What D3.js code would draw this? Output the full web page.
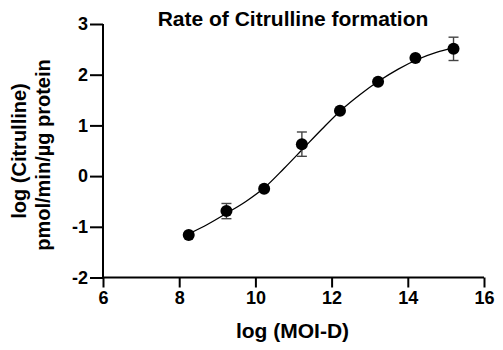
<!DOCTYPE html>
<html><head><meta charset="utf-8">
<script src="https://cdn.jsdelivr.net/npm/d3@7"></script>
<style>body{margin:0;background:#fff}svg{display:block}</style>
</head><body><svg id="c" width="503" height="350"></svg>
<script>
const xVals = [8.25, 9.24, 10.23, 11.22, 12.22, 13.22, 14.2, 15.2];
const yVals = [-1.16, -0.69, -0.25, 0.63, 1.29, 1.86, 2.33, 2.51];
const yErr  = [0, 0.15, 0, 0.24, 0, 0, 0, 0.23];
const curveX = [8.25, 8.75, 9.25, 9.75, 10.25, 10.75, 11.25, 11.75, 12.25, 12.75, 13.25, 13.75, 14.25, 14.75, 15.2];
const curveY = [-1.14, -0.95, -0.73, -0.50, -0.22, 0.15, 0.54, 0.93, 1.30, 1.61, 1.88, 2.11, 2.30, 2.44, 2.53];
const xTicks = [6, 8, 10, 12, 14, 16];
const yTicks = [-2, -1, 0, 1, 2, 3];

const FF = '"Liberation Sans", Arial, sans-serif';
const svg = d3.select("#c");
const x = d3.scaleLinear().domain([6, 16]).range([103, 484]);
const y = d3.scaleLinear().domain([-2, 3]).range([277.5, 24]);

const xa = svg.append("g").attr("transform", "translate(0,277.5)")
  .call(d3.axisBottom(x).tickValues(xTicks).tickSize(10).tickPadding(4).tickFormat(d => String(d)));
const ya = svg.append("g").attr("transform", "translate(103,0)")
  .call(d3.axisLeft(y).tickValues(yTicks).tickSize(13).tickPadding(2).tickFormat(d => String(d)));
[xa, ya].forEach(a => {
  a.attr("font-family", FF).attr("font-size", 18).attr("font-weight", "bold");
  a.select(".domain").attr("stroke", "#000").attr("stroke-width", 2);
  a.selectAll(".tick line").attr("stroke", "#000").attr("stroke-width", 2);
  a.selectAll(".tick text").attr("fill", "#000").attr("font-weight", "bold");
});
xa.select(".domain").attr("d", "M102,0H484");
ya.select(".domain").attr("d", "M0,24V278.5");

const line = d3.line().x((d, i) => x(curveX[i])).y(d => y(d)).curve(d3.curveMonotoneX);
svg.append("path").datum(curveY).attr("d", line).attr("fill", "none").attr("stroke", "#000").attr("stroke-width", 1.3);

const eb = svg.append("g").attr("stroke", "#444").attr("stroke-width", 1.4);
xVals.forEach((xv, i) => {
  if (!yErr[i]) return;
  const cx = x(xv), t = y(yVals[i] + yErr[i]), b = y(yVals[i] - yErr[i]);
  eb.append("line").attr("x1", cx).attr("x2", cx).attr("y1", t).attr("y2", b);
  eb.append("line").attr("x1", cx - 5).attr("x2", cx + 5).attr("y1", t).attr("y2", t);
  eb.append("line").attr("x1", cx - 5).attr("x2", cx + 5).attr("y1", b).attr("y2", b);
});

svg.append("g").selectAll("circle").data(yVals).join("circle")
  .attr("cx", (d, i) => x(xVals[i])).attr("cy", d => y(d)).attr("r", 6).attr("fill", "#000");

function txt(sel) { return sel.attr("font-family", FF).attr("font-weight", "bold").attr("fill", "#000"); }
txt(svg.append("text")).attr("x", 293).attr("y", 26).attr("text-anchor", "middle").attr("font-size", 21).text("Rate of Citrulline formation");
txt(svg.append("text")).attr("x", 292.5).attr("y", 338).attr("text-anchor", "middle").attr("font-size", 21).text("log (MOI-D)");
txt(svg.append("text")).attr("transform", "translate(26,151) rotate(-90)").attr("text-anchor", "middle").attr("font-size", 20).text("log (Citrulline)");
txt(svg.append("text")).attr("transform", "translate(50,155) rotate(-90)").attr("text-anchor", "middle").attr("font-size", 20).text("pmol/min/µg protein");
</script></body></html>
